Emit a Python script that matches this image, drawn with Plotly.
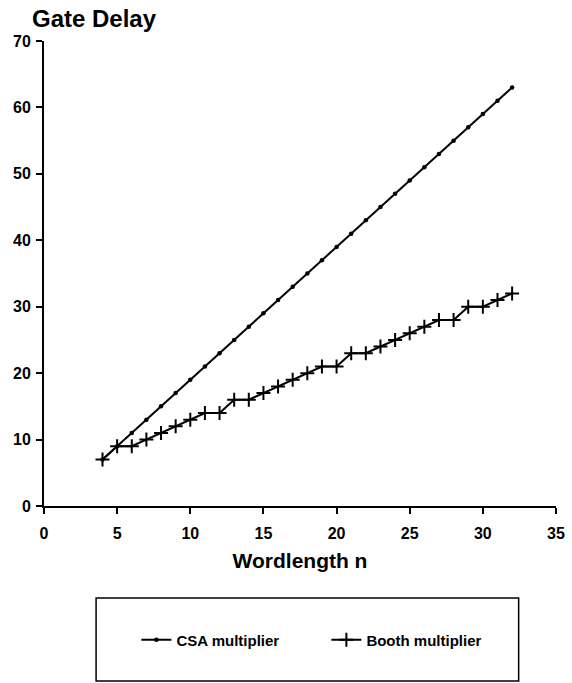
import plotly.graph_objects as go

# Word lengths evaluated
wordlength = [4, 5, 6, 7, 8, 9, 10, 11, 12, 13, 14, 15, 16, 17, 18, 19, 20,
              21, 22, 23, 24, 25, 26, 27, 28, 29, 30, 31, 32]

# Gate delay of the carry-save array multiplier
csa_delay = [7, 9, 11, 13, 15, 17, 19, 21, 23, 25, 27, 29, 31, 33, 35, 37, 39,
             41, 43, 45, 47, 49, 51, 53, 55, 57, 59, 61, 63]

# Gate delay of the Booth multiplier
booth_delay = [7, 9, 9, 10, 11, 12, 13, 14, 14, 16, 16, 17, 18, 19, 20, 21, 21,
               23, 23, 24, 25, 26, 27, 28, 28, 30, 30, 31, 32]

x_ticks = [0, 5, 10, 15, 20, 25, 30, 35]
y_ticks = [0, 10, 20, 30, 40, 50, 60, 70]

FONT = "Liberation Sans, Arial, Helvetica, sans-serif"

W, H = 572, 683
ML, MR, MT, MB = 44, 7, 41, 177
PW, PH = W - ML - MR, H - MT - MB


def px_x(x):
    return (x - ML) / PW


def px_y(y):
    return (H - MB - y) / PH


fig = go.Figure()

fig.add_trace(go.Scatter(
    x=wordlength, y=csa_delay, mode="lines+markers", name="CSA multiplier",
    line=dict(color="black", width=2),
    marker=dict(symbol="circle", size=4.5, color="black"),
))

fig.add_trace(go.Scatter(
    x=wordlength, y=booth_delay, mode="lines+markers", name="Booth multiplier",
    line=dict(color="black", width=2),
    marker=dict(symbol="cross-thin", size=10, color="black",
                line=dict(color="black", width=2)),
))

axis_common = dict(
    showline=True, linecolor="black", linewidth=2,
    ticks="outside", ticklen=6, tickwidth=2, tickcolor="black",
    showgrid=False, zeroline=False, ticklabeloverflow="allow",
    tickfont=dict(family=FONT, size=16, color="black", weight="bold"),
)

fig.update_xaxes(range=[0, 35], tickvals=x_ticks, ticklabelstandoff=6,
                 **axis_common,
                 title=dict(text="Wordlength n", standoff=12,
                            font=dict(family=FONT, size=21, color="black",
                                      weight="bold")))
fig.update_yaxes(range=[0, 70], tickvals=y_ticks, ticklabelstandoff=2,
                 **axis_common)

# Legend frame below the plot
fig.add_shape(type="rect", xref="paper", yref="paper",
              x0=px_x(97), x1=px_x(527), y0=px_y(681), y1=px_y(598),
              line=dict(color="black", width=1.5), fillcolor="white",
              layer="below")

fig.add_annotation(text="Gate Delay", xref="paper", yref="paper",
                   x=px_x(30), y=px_y(19), xanchor="left", yanchor="middle",
                   showarrow=False,
                   font=dict(family=FONT, size=24, color="black",
                             weight="bold"))

fig.update_layout(
    width=W, height=H,
    margin=dict(l=ML, r=MR, t=MT, b=MB),
    paper_bgcolor="white", plot_bgcolor="white",
    showlegend=True,
    legend=dict(orientation="h", x=px_x(138), xanchor="left",
                y=px_y(640), yanchor="middle",
                entrywidth=145, entrywidthmode="pixels",
                bgcolor="rgba(0,0,0,0)",
                font=dict(family=FONT, size=15, color="black",
                          weight="bold")),
)

fig.write_html("out.html")
